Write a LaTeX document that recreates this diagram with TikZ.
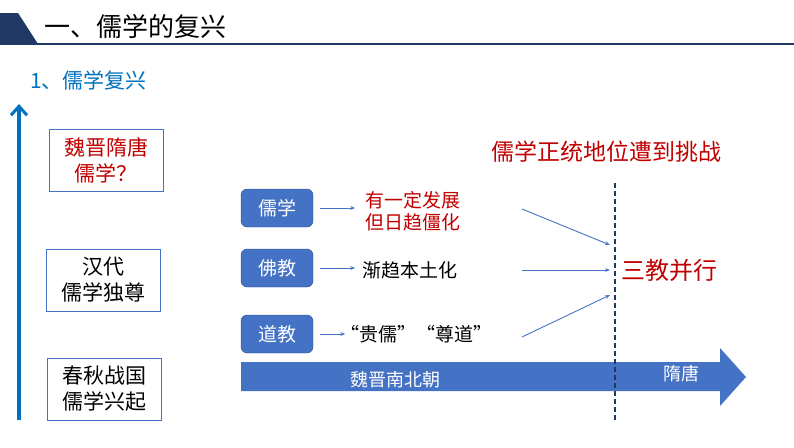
\documentclass[tikz,border=0pt]{standalone}
\usepackage{fontspec}
\setmainfont{Noto Sans CJK SC}
\usetikzlibrary{arrows.meta}
\definecolor{navy}{RGB}{31,56,100}
\definecolor{mblue}{RGB}{68,114,196}
\definecolor{vblue}{RGB}{0,112,192}
\definecolor{tred}{RGB}{192,0,0}
\begin{document}
\begin{tikzpicture}[x=1pt,y=-1pt,
  era/.style={draw=mblue,line width=0.8pt,minimum width=114pt,minimum height=62pt,align=center,font=\fontsize{21}{26}\selectfont,inner sep=0pt},
  rbox/.style={fill=mblue,draw=mblue!70!black,rounded corners=6pt,minimum width=72pt,minimum height=38pt,text=white,font=\fontsize{19}{21}\selectfont,inner sep=0pt},
  sarr/.style={-{Stealth[length=5pt]},draw=mblue,line width=0.9pt},
  lab/.style={font=\fontsize{19}{22}\selectfont,align=left,inner sep=0pt}]
\useasboundingbox (0,0) rectangle (794,447);
\fill[navy] (0,13) -- (18,13) -- (38,44) -- (0,44) -- cycle;
\draw[navy,line width=1.5pt] (0,44) -- (794,44);
\node[anchor=west,inner sep=0pt,font=\fontsize{26}{28}\selectfont] (title) at (44,27) {一、儒学的复兴};
\node[anchor=west,inner sep=0pt,text=vblue,font=\fontsize{21}{23}\selectfont] (sub) at (30,80) {1、儒学复兴};
\coordinate (vb) at (19,420); \coordinate (vt) at (19,104);
\draw[vblue,line width=4pt,-{Straight Barb[length=9pt,width=16pt,line width=3pt]}] (vb) -- (vt);
\node[era,text=tred] (e3) at (106,160) {魏晋隋唐\\儒学？};
\node[era] (e2) at (103,280) {汉代\\儒学独尊};
\node[era] (e1) at (104.5,389) {春秋战国\\儒学兴起};
\node[rbox] (ru) at (277,208) {儒学};
\node[rbox] (fo) at (277,268) {佛教};
\node[rbox] (dao) at (277,334) {道教};
\node[lab,text=tred,anchor=west] (t1) at (365,211) {有一定发展\\但日趋僵化};
\node[lab,anchor=west] (t2) at (362,270) {渐趋本土化};
\node[lab,anchor=west] (t3) at (340,334) {“贵儒”“尊道”};
\draw[sarr] (ru.east) ++(7,0) -- ++(35,0);
\draw[sarr] (fo.east) ++(7,0) -- ++(35,0);
\draw[sarr] (dao.east) ++(7,0) -- ++(25,0);
\coordinate (a1) at (522,209); \coordinate (b1) at (610,245);
\coordinate (a2) at (522,270); \coordinate (b2) at (610,270);
\coordinate (a3) at (522,337); \coordinate (b3) at (610,295);
\draw[sarr] (a1) -- (b1); \draw[sarr] (a2) -- (b2); \draw[sarr] (a3) -- (b3);
\coordinate (dt) at (615,183); \coordinate (db) at (615,420);
\node[text=tred,anchor=west,inner sep=0pt,font=\fontsize{24}{26}\selectfont] (sj) at (621,270) {三教并行};
\node[text=tred,anchor=west,inner sep=0pt,font=\fontsize{23}{25}\selectfont] (ch) at (491,152) {儒学正统地位遭到挑战};
\fill[mblue] (241,362) -- (720,362) -- (720,348) -- (746,377) -- (720,406) -- (720,391) -- (241,391) -- cycle;
\draw[navy,line width=1.2pt,dash pattern=on 5pt off 3pt] (dt) -- (db);
\node[text=white,inner sep=0pt,font=\fontsize{18}{20}\selectfont] (wj) at (395,380) {魏晋南北朝};
\node[text=white,inner sep=0pt,font=\fontsize{18}{20}\selectfont] (st) at (681,374) {隋唐};
\end{tikzpicture}
\end{document}
